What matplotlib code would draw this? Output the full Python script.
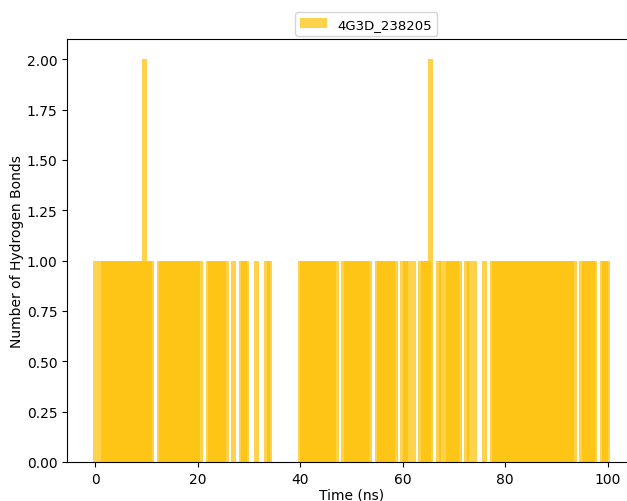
import numpy as np
import matplotlib
matplotlib.use("Agg")
import matplotlib.pyplot as plt

# Hydrogen bond count per frame, one frame every 0.5 ns (0 - 100 ns)
label = "4G3D_238205"
timestep_ns = 0.5
hbonds = [
    1, 0, 1, 1, 1, 1, 1, 1, 1, 1, 1, 1, 1, 1, 1, 1, 1, 1, 1, 2,   # 0 - 9.5
    1, 1, 1, 0, 0, 1, 1, 1, 1, 1, 1, 1, 1, 1, 1, 1, 1, 1, 1, 1,   # 10 - 19.5
    1, 1, 0, 0, 1, 1, 1, 1, 1, 1, 1, 1, 0, 0, 1, 0, 0, 1, 1, 1,   # 20 - 29.5
    0, 0, 0, 1, 0, 0, 0, 1, 1, 0, 0, 0, 0, 0, 0, 0, 0, 0, 0, 0,   # 30 - 39.5
    1, 1, 1, 1, 1, 1, 1, 1, 1, 1, 1, 1, 1, 1, 1, 0, 0, 1, 1, 1,   # 40 - 49.5
    1, 1, 1, 1, 1, 1, 1, 1, 0, 0, 1, 1, 1, 1, 1, 1, 1, 1, 0, 0,   # 50 - 59.5
    1, 1, 1, 0, 1, 0, 0, 1, 1, 1, 1, 2, 0, 0, 1, 1, 0, 1, 1, 1,   # 60 - 69.5
    1, 1, 1, 0, 0, 1, 1, 0, 1, 0, 0, 0, 1, 0, 0, 1, 1, 1, 1, 1,   # 70 - 79.5
    1, 1, 1, 1, 1, 1, 1, 1, 1, 1, 1, 1, 1, 1, 1, 1, 1, 1, 1, 1,   # 80 - 89.5
    1, 1, 1, 1, 1, 1, 1, 1, 0, 0, 1, 1, 1, 1, 1, 1, 0, 0, 1, 1,   # 90 - 99.5
    1,                                                            # 100
]
time_ns = np.arange(len(hbonds)) * timestep_ns

fig = plt.figure(figsize=(6.27, 5.02), dpi=100)
ax = fig.add_axes([67 / 627, 1 - 463 / 502, 569 / 627, 423 / 502])

ax.bar(time_ns, hbonds, width=1.0, color="#FFC000", alpha=0.7,
       linewidth=0, label=label)

ax.set_xlabel("Time (ns)", labelpad=1.5)
ax.set_ylabel("Number of Hydrogen Bonds", labelpad=1.8)
ax.set_ylim(0, 2.1)
ax.set_yticks(np.arange(0, 2.01, 0.25))

fig.legend(loc="center", bbox_to_anchor=(0.584, 0.95), fontsize=9.5)

fig.savefig("out.png", dpi=100)
